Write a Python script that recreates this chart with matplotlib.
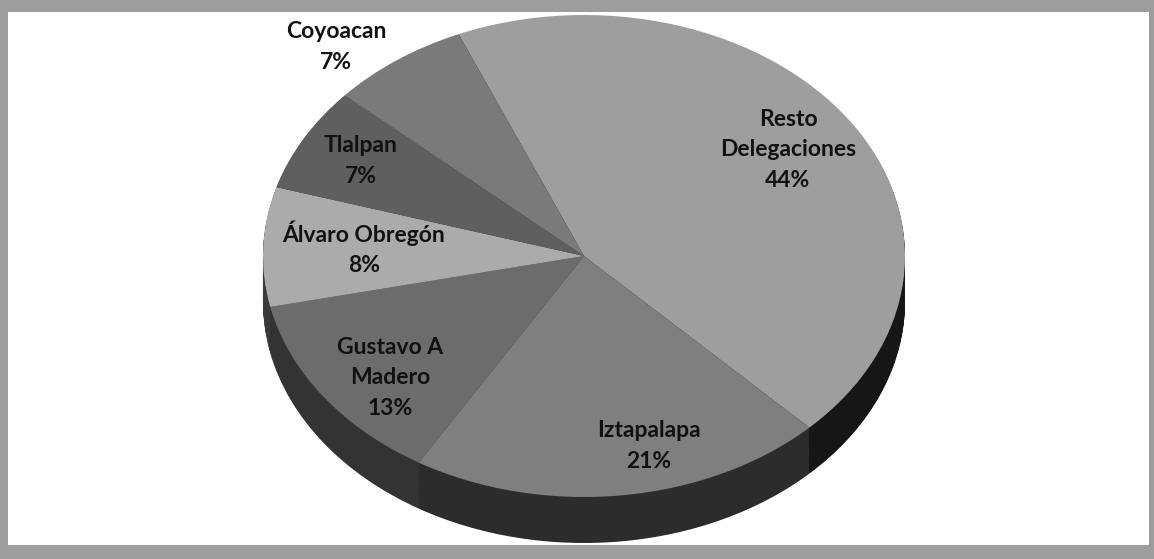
import matplotlib
matplotlib.use("Agg")
import matplotlib.pyplot as plt
from matplotlib.patches import Rectangle
import numpy as np

# ---- data ----
labels = ["Resto\nDelegaciones", "Iztapalapa", "Gustavo A\nMadero",
          "Álvaro Obregón", "Tlalpan", "Coyoacan"]
values = [44, 21, 13, 8, 7, 7]

# ---- style / layout ----
top_colors = ["#9e9e9e", "#7f7f7f", "#6c6c6c", "#ababab", "#5f5f5f", "#7a7a7a"]
side_colors = ["#161616", "#2c2c2c", "#333333", "#3a3a3a", "#2a2a2a", "#303030"]
label_xy = [(788, 150), (649, 446), (390, 378), (364, 248), (361, 161), (336, 47)]
start_angle = 113.0

W, H = 1154, 559
cx, cy, a, b, depth = 584, 256, 321, 241, 46

fig = plt.figure(figsize=(W / 100, H / 100), dpi=100)
bg = fig.add_axes([0, 0, 1, 1])
bg.set_xlim(0, W)
bg.set_ylim(H, 0)
bg.axis("off")
bg.add_patch(Rectangle((0, 0), W, H, facecolor="#9d9d9d", edgecolor="none", zorder=0))
bg.add_patch(Rectangle((8, 12), 1141, 533, facecolor="white", edgecolor="none", zorder=1))

dd = depth / b
ax = fig.add_axes([(cx - a) / W, 1 - (cy + b + depth) / H, 2 * a / W, (2 * b + depth) / H])
ax.patch.set_alpha(0)
n_layers = 48
for i in range(n_layers, 0, -1):
    ax.pie(values, colors=side_colors, startangle=start_angle, counterclock=False,
           center=(0, -dd * i / n_layers), radius=1,
           wedgeprops=dict(linewidth=0, edgecolor="none"))
ax.pie(values, colors=top_colors, startangle=start_angle, counterclock=False,
       center=(0, 0), radius=1, wedgeprops=dict(linewidth=0, edgecolor="none"))
ax.set_aspect("auto")
ax.set_xlim(-1, 1)
ax.set_ylim(-1 - dd, 1)
ax.axis("off")

# overlay axes for labels
tx = fig.add_axes([0, 0, 1, 1])
tx.set_xlim(0, W)
tx.set_ylim(H, 0)
tx.axis("off")
tx.patch.set_alpha(0)

tot = sum(values)
for lab, v, (x, y) in zip(labels, values, label_xy):
    tx.text(x, y, f"{lab}\n{round(100 * v / tot)}%", ha="center", va="center",
            multialignment="center", fontsize=16.5, fontweight="bold",
            family=["Lato", "DejaVu Sans"], color="#111111", linespacing=1.55, zorder=5)

fig.savefig("out.png", dpi=100)
